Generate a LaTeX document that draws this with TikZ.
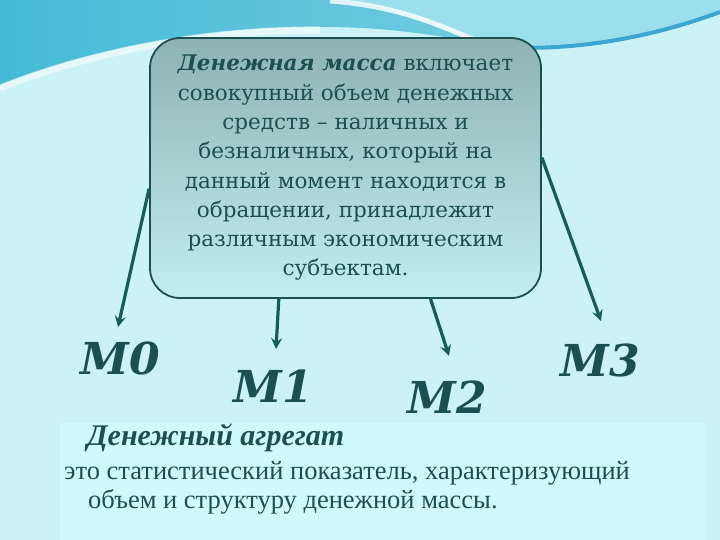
\documentclass[tikz,border=0pt]{standalone}
\usepackage{fontspec}
\setmainfont{DejaVu Serif}
\newfontfamily\aggfont{Liberation Serif}
\usetikzlibrary{arrows.meta}

\definecolor{ink}{HTML}{1B4F52}
\definecolor{arrowcol}{HTML}{145E55}
\definecolor{boxtop}{HTML}{8DB3B4}
\definecolor{boxbot}{HTML}{C2EEF0}
\definecolor{bgcol}{HTML}{CBF3F7}
\definecolor{panelcol}{HTML}{D0F9FB}
\definecolor{wavea}{HTML}{44BAD6}
\definecolor{waveb}{HTML}{86D2E4}
\definecolor{wavec}{HTML}{9CDFEC}
\definecolor{ribbon}{HTML}{3BA6CF}

\begin{document}
\begin{tikzpicture}[x = 1pt, y = -1pt,
  massbox/.style = { draw = ink, line width = 1.8pt, rounded corners = 30pt,
    top color = boxtop, bottom color = boxbot, minimum width = 391pt,
    minimum height = 260pt, text = ink, align = center,
    font = \fontsize{21.5}{29.3}\selectfont },
  mlabel/.style = { text = ink, font = \fontsize{44}{44}\selectfont\bfseries\itshape },
  aggtext/.style = { text = ink, anchor = west, inner sep = 0pt,
    font = \aggfont\fontsize{26.5}{29}\selectfont },
  link/.style = { draw = arrowcol, line width = 3.2pt,
    -{Stealth[length = 11pt, width = 11pt, inset = 4pt]} }]

  % background
  \useasboundingbox (0,0) rectangle (720,540);
  \fill[bgcol] (0,0) rectangle (720,540);
  \fill[panelcol] (60,423) rectangle (706,540);
  \shade[left color = wavea, right color = waveb]
    (0,0) -- (720,0) -- (720,12) .. controls (640,40) and (560,52) .. (480,42)
    .. controls (420,34) and (390,27) .. (320,27)
    .. controls (220,26) and (100,45) .. (0,85) -- cycle;
  \fill[wavec] (340,0) -- (720,0) -- (720,12) .. controls (640,40) and (560,52) .. (480,42)
    .. controls (440,30) and (400,8) .. (340,0) -- cycle;
  \draw[white, line width = 5pt, opacity = .8] (330,1) .. controls (400,6) and (440,26) .. (480,42);
  \draw[ribbon, line width = 4pt] (470,44) .. controls (560,56) and (650,38) .. (720,12);
  \draw[white, line width = 7pt, opacity = .5] (0,88) .. controls (100,48) and (220,29) .. (320,30);

  % definition box
  \node[massbox] (mass) at (345.5,168)
    { \textbf{\textit{Денежная масса}} включает \\
      совокупный объем денежных \\
      средств -- наличных и \\
      безналичных, который на \\
      данный момент находится в \\
      обращении, принадлежит \\
      различным экономическим \\
      субъектам. };

  % aggregates
  \node[mlabel] (m0) at (120,358) {M0};
  \node[mlabel] (m1) at (273,386) {M1};
  \node[mlabel] (m2) at (447,397) {M2};
  \node[mlabel] (m3) at (600,360) {M3};

  \coordinate (tip0) at (118,327);
  \coordinate (tip1) at (276,349);
  \coordinate (tip2) at (449,356);
  \coordinate (tip3) at (601,321);

  \draw[link] (mass.186.4) -- (tip0);
  \draw[link] (mass.243.6) -- (tip1);
  \draw[link] (mass.303.6) -- (tip2);
  \draw[link] (mass.3.2) -- (tip3);

  % bottom text
  \node[aggtext, font = \aggfont\fontsize{30}{30}\selectfont] (agg) at (87,438)
    {\textbf{\textit{Денежный агрегат}}};
  \node[aggtext] (def1) at (64,473) {это статистический показатель, характеризующий};
  \node[aggtext] (def2) at (88,502) {объем и структуру денежной массы.};

\end{tikzpicture}
\end{document}
